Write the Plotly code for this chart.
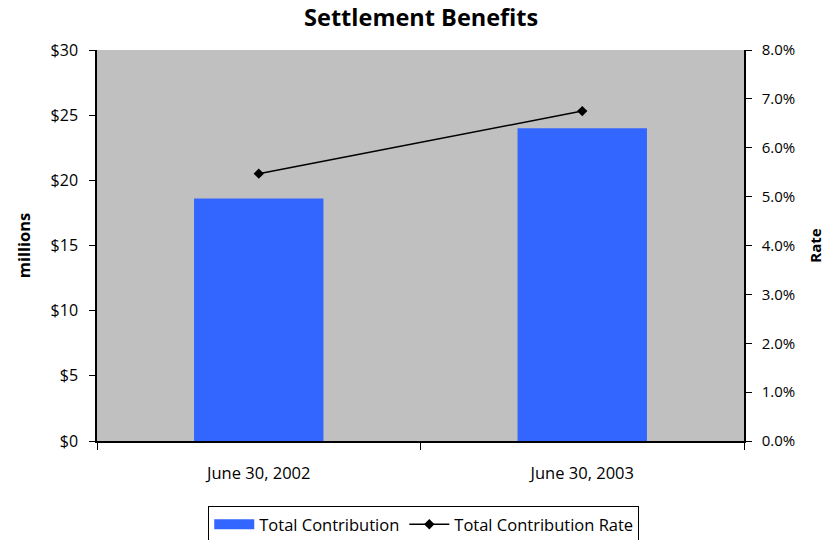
import plotly.graph_objects as go

# Settlement benefit contributions by fiscal year-end
categories = ["June 30, 2002", "June 30, 2003"]
total_contribution = [18.6, 24.0]          # $ millions
contribution_rate = [0.0547, 0.0675]       # share of payroll

left_ticks = [0, 5, 10, 15, 20, 25, 30]
left_labels = ["$0", "$5", "$10", "$15", "$20", "$25", "$30"]
right_ticks = [0.0, 0.01, 0.02, 0.03, 0.04, 0.05, 0.06, 0.07, 0.08]
right_labels = ["0.0%", "1.0%", "2.0%", "3.0%", "4.0%", "5.0%", "6.0%", "7.0%", "8.0%"]

FONT = "'Open Sans', Lato, sans-serif"
BAR_BLUE = "#3366FF"

fig = go.Figure()
fig.add_trace(go.Bar(
    x=categories, y=total_contribution, name="Total Contribution",
    marker=dict(color=BAR_BLUE, line=dict(width=0)),
    yaxis="y", showlegend=False,
))
# legend key drawn as a wide filled swatch for the bar series
fig.add_trace(go.Scatter(
    x=[None], y=[None], name="Total Contribution", mode="lines",
    line=dict(color=BAR_BLUE, width=12), yaxis="y",
))
fig.add_trace(go.Scatter(
    x=categories, y=contribution_rate, name="Total Contribution Rate",
    mode="lines+markers",
    line=dict(color="black", width=1.5),
    marker=dict(symbol="diamond", size=8, color="black"),
    yaxis="y2",
))

fig.update_layout(
    width=834, height=540,
    margin=dict(l=97, r=90, t=50, b=99),
    paper_bgcolor="white", plot_bgcolor="#C0C0C0",
    font=dict(family=FONT, size=15, color="black"),
    title=dict(text="<b>Settlement Benefits</b>", x=0.505, xanchor="center",
               y=0.967, yanchor="middle", font=dict(size=23.5, family=FONT)),
    bargap=0.6,
    showlegend=True,
    legend=dict(orientation="h", x=0.505, xanchor="center",
                yref="container", y=0.063, yanchor="top",
                bordercolor="black", borderwidth=1, bgcolor="white",
                font=dict(size=16.5), itemwidth=40, tracegroupgap=0,
                traceorder="normal"),
    xaxis=dict(showline=True, linecolor="black", linewidth=1.5, mirror=False,
               ticks="outside", tickson="boundaries", ticklen=7, tickcolor="black",
               ticklabelstandoff=16, showgrid=False, zeroline=False,
               tickfont=dict(size=16.5)),
    yaxis=dict(range=[0, 30], tickvals=left_ticks, ticktext=left_labels,
               showline=True, linecolor="black", linewidth=1.5,
               ticks="outside", ticklen=6, tickcolor="black", ticklabelstandoff=8,
               showgrid=False, zeroline=False, tickfont=dict(size=16),
               title=dict(text="<b>millions</b>", font=dict(size=16.5), standoff=16)),
    yaxis2=dict(range=[0, 0.08], tickvals=right_ticks, ticktext=right_labels,
                overlaying="y", side="right",
                showline=True, linecolor="black", linewidth=1.5,
                ticks="outside", ticklen=6, tickcolor="black", ticklabelstandoff=7,
                showgrid=False, zeroline=False, tickfont=dict(size=15),
                title=dict(text="<b>Rate</b>", font=dict(size=15), standoff=16)),
)

fig.write_html("out.html")
